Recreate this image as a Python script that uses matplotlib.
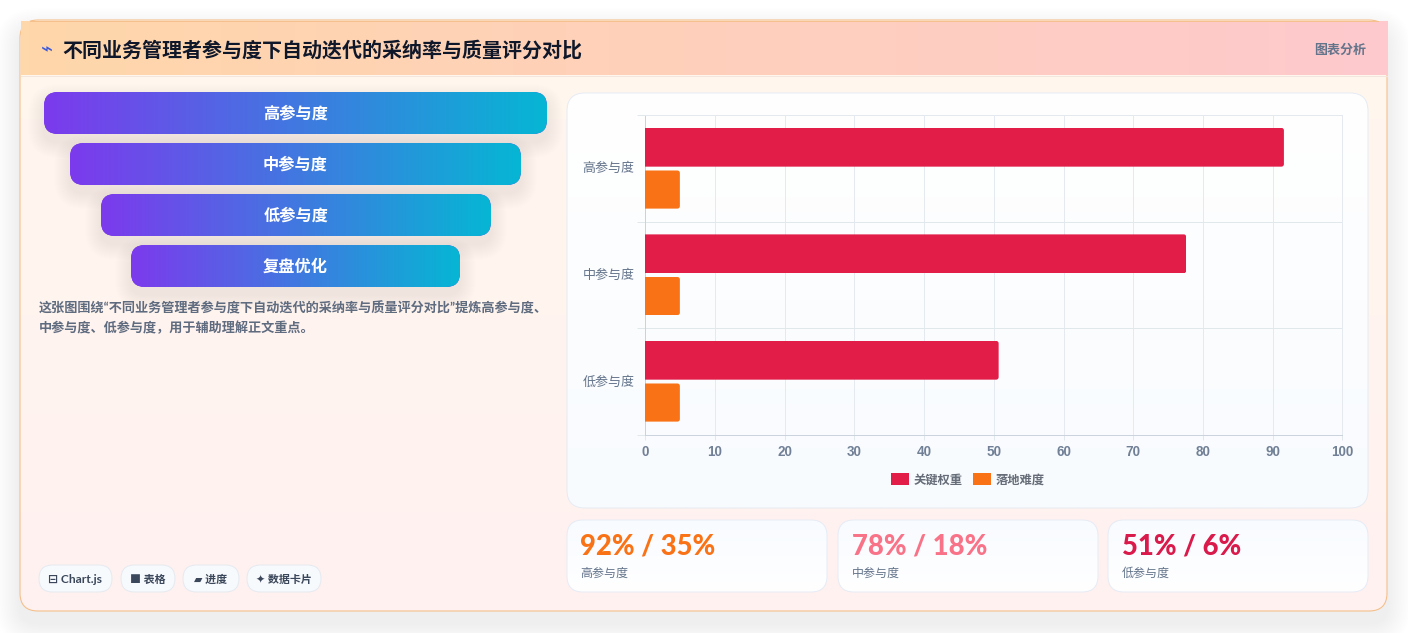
import numpy as np
import matplotlib
matplotlib.use('Agg')
import matplotlib.pyplot as plt
from matplotlib.colors import LinearSegmentedColormap
from matplotlib.patches import FancyBboxPatch, Rectangle
from matplotlib.transforms import ScaledTranslation

plt.rcParams['font.family'] = ['Lato', 'Noto Sans CJK SC', 'DejaVu Sans']

# chart data
levels = ['高参与度', '中参与度', '低参与度']
key_weight = [91.6, 77.6, 50.7]
difficulty = [5, 5, 5]
series_names = ['关键权重', '落地难度']
x_ticks = [0, 10, 20, 30, 40, 50, 60, 70, 80, 90, 100]

# text content
title = '不同业务管理者参与度下自动迭代的采纳率与质量评分对比'
tag = '图表分析'
stages = ['高参与度', '中参与度', '低参与度', '复盘优化']
desc_lines = ['这张图围绕“不同业务管理者参与度下自动迭代的采纳率与质量评分对比”提炼高参与度、',
              '中参与度、低参与度\uff0c用于辅助理解正文重点。']
chips = ['⊟ Chart.js', '■ 表格', '▰ 进度', '✦ 数据卡片']
stat_rates = [92, 78, 51]
stat_scores = [35, 18, 6]

W, H = 1408, 633
PX = 0.72  # px to pt at dpi 100
RED, ORANGE = '#e11d48', '#f97316'
SLATE = '#64748b'

fig = plt.figure(figsize=(W / 100, H / 100), dpi=100, facecolor='white')
bg = fig.add_axes([0, 0, 1, 1])
bg.axis('off')


def rbox(x0, y0, x1, y1, r, **kw):
    p = FancyBboxPatch((x0 + r, y0 + r), x1 - x0 - 2 * r, y1 - y0 - 2 * r,
                       boxstyle=f'round,pad={r},rounding_size={r}', **kw)
    bg.add_patch(p)
    return p


def gradient(clip, x0, y0, x1, y1, c0, c1, vertical=False, zorder=2):
    cmap = LinearSegmentedColormap.from_list('g', [c0, c1])
    g = np.linspace(0, 1, 256)
    g = g[:, None] if vertical else g[None, :]
    im = bg.imshow(g, extent=(x0, x1, y1, y0), cmap=cmap, aspect='auto',
                   origin='upper', zorder=zorder, interpolation='bilinear')
    im.set_clip_path(clip)


def shadow(x0, y0, x1, y1, r, spread, dy, alpha, zorder=1, steps=16):
    for i in range(steps):
        pad = spread * (1 - i / steps)
        rbox(x0 - pad, y0 - pad + dy, x1 + pad, y1 + pad + dy, r + pad,
             fc='#0f172a', ec='none', alpha=alpha / steps, zorder=zorder)


# outer card
shadow(20, 20, 1387, 611, 18, 24, 12, 0.07)
card = rbox(20, 20, 1387, 611, 18, fc='#fff5ee', ec='none', zorder=2)
gradient(card, 20, 20, 1387, 611, '#fff7ee', '#fff1f0', vertical=True, zorder=2.1)
rbox(20, 20, 1387, 611, 18, fc='none', ec='#f5c08c', lw=0.8, zorder=2.2)

# header strip
head = Rectangle((20.5, 21), 1367, 54, fc='#fed7aa', ec='none', zorder=3)
bg.add_patch(head)
gradient(head, 21, 21, 1388, 75, '#fed7aa', '#ffc9cd', zorder=3.1)
bg.plot([21, 1387], [75.5, 75.5], color='#f3e6df', lw=0.7, zorder=3.2)
bg.plot([30, 1378], [20.5, 20.5], color='#f5c08c', lw=0.7, zorder=3.2)
bg.text(47, 50, '⌁', color='#3b5bdb', fontsize=20 * PX, ha='center', va='center',
        family='DejaVu Sans', zorder=4)
bg.text(62.5, 50.5, title, color='#0f172a', fontsize=20 * PX, fontweight='bold',
        va='center', zorder=4)
bg.text(1366, 49.5, tag, color=SLATE, fontsize=13 * PX, fontweight='bold',
        ha='right', va='center', zorder=4)

# funnel
funnel_boxes = [(44, 92, 547, 134), (70, 143, 521, 185), (101, 194, 491, 236), (131, 245, 460, 287)]
for name, (x0, y0, x1, y1) in zip(stages, funnel_boxes):
    shadow(x0, y0, x1, y1, 14, 16, 8, 0.055, zorder=4)
for name, (x0, y0, x1, y1) in zip(stages, funnel_boxes):
    box = rbox(x0, y0, x1, y1, 14, fc='#7c3aed', ec='none', zorder=5)
    gradient(box, x0, y0, x1, y1, '#7c3aed', '#06b6d4', zorder=5.1)
    bg.text((x0 + x1) / 2, (y0 + y1) / 2 + 0.5, name, color='white', fontsize=16.2 * PX,
            fontweight='bold', ha='center', va='center', zorder=6)

for line, y in zip(desc_lines, [308, 327]):
    bg.text(39, y, line, color='#5f6b7f', fontsize=13.12 * PX, fontweight='bold',
            va='center', zorder=6)

# chips
chip_boxes = [(39, 112), (121, 175), (183, 239), (247, 321)]
chip_sizes = [12, 11, 11, 11]
for label, size, (x0, x1) in zip(chips, chip_sizes, chip_boxes):
    rbox(x0, 565, x1, 592, 13.5, fc='#f7fafc', ec='#e5eaf1', lw=0.7, zorder=5)
    bg.text((x0 + x1) / 2, 579.5, label, color='#3b475a', fontsize=size * PX,
            fontweight='bold', ha='center', va='center', zorder=6)

# chart panel
panel = rbox(567, 93, 1368, 508, 18, fc='white', ec='none', zorder=5)
gradient(panel, 567, 93, 1368, 508, '#ffffff', '#f8fbfe', vertical=True, zorder=5.1)
rbox(567, 93, 1368, 508, 18, fc='none', ec='#e6ebf3', lw=0.7, zorder=5.2)

# stat cards
stat_boxes = [(567, 827), (838, 1098), (1108, 1368)]
stat_colors = [ORANGE, '#f87388', '#d91a4a']
for rate, score, level, color, (x0, x1) in zip(stat_rates, stat_scores, levels, stat_colors, stat_boxes):
    c = rbox(x0, 520, x1, 592, 16, fc='white', ec='none', zorder=5)
    gradient(c, x0, 520, x1, 592, '#f8fbff', '#ffffff', vertical=True, zorder=5.1)
    rbox(x0, 520, x1, 592, 16, fc='none', ec='#e6ebf5', lw=0.7, zorder=5.2)
    bg.text(x0 + 13.5, 547, f'{rate}% / {score}%', color=color, fontsize=27.5 * PX,
            fontweight='black', va='center', zorder=6)
    bg.text(x0 + 13.5, 573, level, color=SLATE, fontsize=12 * PX,
            fontweight='medium', va='center', zorder=6)

bg.plot([0, W], [632.5, 632.5], color='#e5e7eb', lw=0.7, zorder=6)
bg.set_xlim(0, W)
bg.set_ylim(H, 0)

# bar chart
ax = fig.add_axes([645 / W, (H - 434.5) / H, 697.5 / W, 319.5 / H])
ax.patch.set_visible(False)
y = np.arange(len(levels))
red_bars = ax.barh(y - 0.197, key_weight, height=0.364, color=RED, lw=0,
                   label=series_names[0], zorder=3)
orange_bars = ax.barh(y + 0.2, difficulty, height=0.358, color=ORANGE, lw=0,
                      label=series_names[1], zorder=3)
ax.set_xlim(0, 100)
ax.set_ylim(2.5, -0.5)

# round the far end of each bar, 2.5px radius with x and y units rescaled
for bar in list(red_bars) + list(orange_bars):
    clip = FancyBboxPatch((-1, bar.get_y()), bar.get_width() + 1, bar.get_height(),
                          boxstyle='round,pad=0,rounding_size=0.36', mutation_aspect=0.0655,
                          transform=ax.transData)
    bar.set_clip_path(clip)

ax.set_xticks(x_ticks)
ax.set_yticks(y, levels)
ax.set_yticks([-0.5, 0.5, 1.5, 2.5], minor=True)
ax.grid(True, axis='x', color='#e5e9f0', lw=0.7, zorder=0)
ax.grid(True, axis='y', which='minor', color='#e1e8ec', lw=0.7, zorder=0)
ax.grid(False, axis='y', which='major')
ax.tick_params(axis='y', which='major', length=0, pad=7.5, labelsize=13 * PX, labelcolor=SLATE)
ax.tick_params(axis='y', which='minor', length=5.8, width=0.7, color='#e1e8ec')
ax.tick_params(axis='x', length=3.6, width=0.7, color='#e1e8ec', pad=4, labelsize=13.5 * PX, labelcolor='#718096')
for lab in ax.get_yticklabels():
    lab.set_transform(lab.get_transform() + ScaledTranslation(0, 1 / 100, fig.dpi_scale_trans))
for lab in ax.get_xticklabels():
    lab.set_fontweight('bold')
    lab.set_family('Liberation Sans')
for side, spine in ax.spines.items():
    spine.set_color('#c9d2dd' if side in ('bottom', 'left') else '#e5e9f0')
    spine.set_linewidth(0.7)
ax.legend(loc='center', bbox_to_anchor=(0.463, -0.1405), ncol=2, frameon=False,
          prop={'size': 12.3 * PX, 'weight': 'bold'}, labelcolor='#666d78',
          handlelength=1.46, handleheight=1.05, handletextpad=0.42, columnspacing=0.8,
          borderpad=0, borderaxespad=0)

fig.savefig('out.png', dpi=100)
